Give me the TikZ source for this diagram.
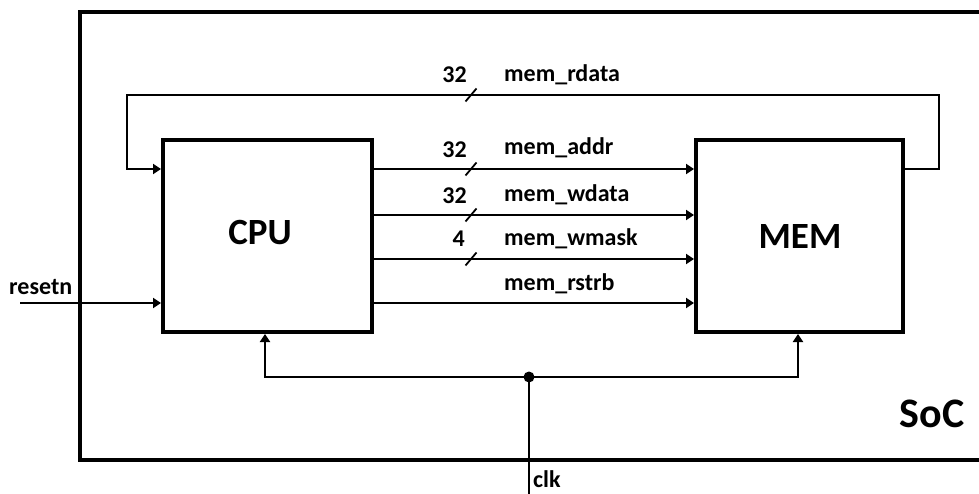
\documentclass[tikz,border=0pt]{standalone}
\usepackage{fontspec}
\setmainfont{Carlito}
\usetikzlibrary{arrows.meta,calc}

\tikzset{
  block/.style={draw, line width=4pt, rectangle, inner sep=0pt, outer sep=2pt},
  bigtext/.style={anchor=base, inner sep=0pt, font=\bfseries\fontsize{37}{40}\selectfont},
  sig/.style={line width=2pt},
  sigarrow/.style={sig, -{Triangle[length=8pt,width=10pt]}},
  slash/.style={line width=1.8pt},
  labeltext/.style={inner sep=0pt, font=\bfseries\fontsize{24}{27}\selectfont},
  width/.style={labeltext, anchor=base east},
  signame/.style={labeltext, anchor=base west},
  frame/.style={line width=4.5pt},
  junction/.style={circle, fill, inner sep=0pt, minimum size=11pt}
}

\begin{document}
\begin{tikzpicture}[x=1pt, y=-1pt]
  \useasboundingbox (0,0) rectangle (979,494);
  \clip (0,0) rectangle (979,494);

  % SoC boundary (right side runs off the page)
  \draw[frame] (990,12) -- (80,12) -- (80,460) -- (990,460);
  \node[anchor=base, inner sep=0pt, font=\bfseries\fontsize{42}{46}\selectfont] (soc) at (932,427) {SoC};

  % blocks
  \node[block, minimum width=209pt, minimum height=192pt] (cpu) at (267.5,236) {};
  \node[block, minimum width=207pt, minimum height=192pt] (mem) at (799.5,236) {};
  \node[bigtext] (cputxt) at (260,245) {CPU};
  \node[bigtext] (memtxt) at (800,248) {MEM};

  % rows of the bus
  \coordinate (yA) at (0,169);
  \coordinate (yB) at (0,215);
  \coordinate (yC) at (0,259);
  \coordinate (yD) at (0,303);

  % read data loops back from MEM to CPU
  \coordinate (rdR) at (939,95);
  \coordinate (rdL) at (127,95);
  \draw[sigarrow] (mem.east |- yA) -| (rdR) -- (rdL) |- (cpu.west |- yA);
  \draw[slash] (465.5,101.5) -- (476.5,88.5);
  \node[width] (wr) at (467,83) {32};
  \node[signame] (nr) at (504,82) {mem\_rdata};

  % CPU -> MEM signals
  \draw[sigarrow] (cpu.east |- yA) -- (mem.west |- yA);
  \draw[slash] (465.5,175.5) -- (476.5,162.5);
  \node[width] (wa) at (467,158) {32};
  \node[signame] (na) at (504,155) {mem\_addr};

  \draw[sigarrow] (cpu.east |- yB) -- (mem.west |- yB);
  \draw[slash] (465.5,221.5) -- (476.5,208.5);
  \node[width] (ww) at (467,204) {32};
  \node[signame] (nw) at (504,202) {mem\_wdata};

  \draw[sigarrow] (cpu.east |- yC) -- (mem.west |- yC);
  \draw[slash] (465.5,265.5) -- (476.5,252.5);
  \node[width] (wm) at (465,247) {4};
  \node[signame] (nm) at (504,246) {mem\_wmask};

  \draw[sigarrow] (cpu.east |- yD) -- (mem.west |- yD);
  \node[signame] (ns) at (504,290) {mem\_rstrb};

  % reset input
  \coordinate (rst) at (20,303);
  \draw[sigarrow] (rst) -- (cpu.west |- rst);
  \node[signame] (rsttxt) at (9,294) {resetn};

  % clock distribution
  \coordinate (clkin) at (529,494);
  \node[junction] (j) at (529,377) {};
  \coordinate (cx) at (265,0);
  \coordinate (mx) at (798,0);
  \draw[sig] (clkin) -- (j.center);
  \draw[sigarrow] (j.center) -| (cpu.south -| cx);
  \draw[sigarrow] (j.center) -| (mem.south -| mx);
  \node[signame] (clktxt) at (533,487) {clk};
\end{tikzpicture}
\end{document}
